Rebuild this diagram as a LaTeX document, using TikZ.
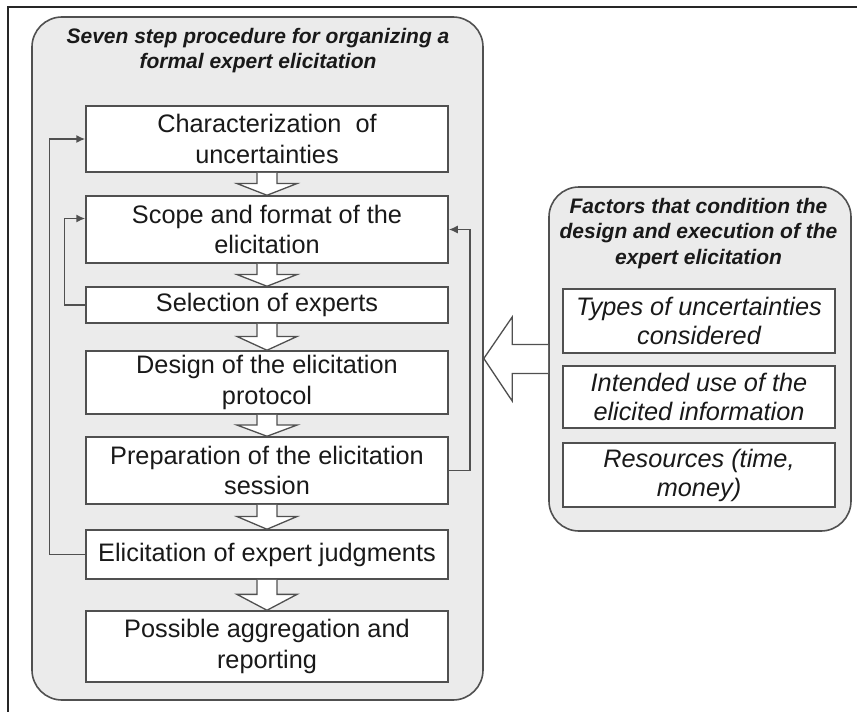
\documentclass[tikz,border=0pt]{standalone}
\usepackage{fontspec}
\setmainfont{Liberation Sans}
\usetikzlibrary{calc,arrows.meta}
\definecolor{panelgray}{HTML}{EBEBEB}
\definecolor{edgegray}{HTML}{505050}
\tikzset{
  panel/.style={draw=edgegray,line width=1.6pt,fill=panelgray,rounded corners=30pt,inner sep=0pt},
  stepbox/.style={draw=edgegray,line width=1.5pt,fill=white,inner sep=0pt,align=center,text=black!90,font=\fontsize{25.3}{30.5}\selectfont},
  factorbox/.style={stepbox,font=\fontsize{25.3}{29}\selectfont\itshape},
  paneltitle/.style={inner sep=0pt,align=center,text=black!90,font=\fontsize{21}{25.5}\selectfont\bfseries\itshape},
  blockarrow/.style={draw=edgegray,line width=1.3pt,fill=white,line join=miter},
  feedback/.style={draw=edgegray,line width=1.5pt,-{Latex[length=9pt,width=8pt]}}
}
\begin{document}
\begin{tikzpicture}[x=1pt,y=-1pt]
                \useasboundingbox (0,0) rectangle (857,712);
                \draw[line width=1.6pt,black!85] (857,7) -| (8,712);
                \node[panel,minimum width=451pt,minimum height=683pt] (steps) at (257.5,358.5) {};
                \node[panel,minimum width=302pt,minimum height=344pt] (factors) at (700,359) {};
                \node[paneltitle] (stepstitle) at (258,50.5) {Seven step procedure for organizing a\\formal expert elicitation};
                \node[paneltitle] (factorstitle) at (698.5,233.5) {Factors that condition the\\design and execution of the\\expert elicitation};
                \foreach \y/\h/\n/\t in {139/66/s1/{Characterization\ \ of\\uncertainties}, 229.5/67/s2/{Scope and format of the\\elicitation}, 305/36/s3/{Selection of experts}, 382.5/63/s4/{Design of the elicitation\\protocol}, 470.5/67/s5/{Preparation of the elicitation\\session}, 554.5/49/s6/{Elicitation of expert judgments}, 646.5/71/s7/{Possible aggregation and\\reporting}}
                \node[stepbox,minimum width=362pt,minimum height=\h pt] (\n) at (267,\y) {\t};
                \foreach \y/\h/\n/\t in {321/64/f1/{Types of uncertainties\\considered}, 397/62/f2/{Intended use of the\\elicited information}, 475/64/f3/{Resources (time,\\money)}}
                \node[factorbox,minimum width=272pt,minimum height=\h pt] (\n) at (699,\y) {\t};
                \foreach \a/\b in {s1/s2, s2/s3, s3/s4, s4/s5, s5/s6, s6/s7}
                \filldraw[blockarrow] ($(\a.south)+(-10,0)$) -- ($(\a.south)!.48!(\b.north)+(-10,0)$) -- ++(-20,0) -- (\b.north) -- ($(\a.south)!.48!(\b.north)+(30,0)$) -- ++(-20,0) -- ($(\a.south)+(10,0)$);
                \filldraw[blockarrow] ($(factors.west)+(0,-14.5)$) -- ++(-36,0) -- ++(0,-27.5) -- (steps.east) -- ($(factors.west)+(-36,42)$) -- ++(0,-27.5) -- ($(factors.west)+(0,14.5)$);
                \draw[feedback] (s6.west) -- ++(-36,0) |- (s1.west);
                \draw[feedback] (s3.west) -- ++(-21,0) |- ([yshift=11pt]s2.west);
                \draw[feedback] (s5.east) -- ++(21,0) |- (s2.east);
            \end{tikzpicture}
\end{document}
